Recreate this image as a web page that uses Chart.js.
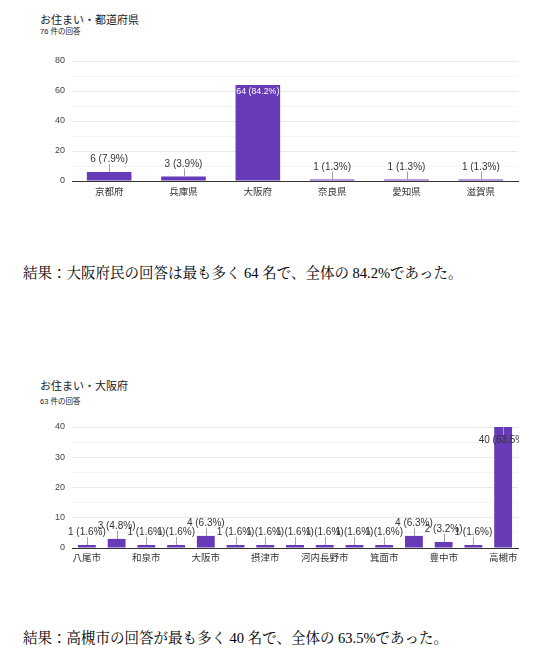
<!DOCTYPE html>
<html>
<head>
<meta charset="utf-8">
<script src="https://cdn.jsdelivr.net/npm/chart.js@4.4.1/dist/chart.umd.min.js"></script>
<style>
  html, body { margin:0; padding:0; background:#fff; }
  body { width:553px; height:665px; position:relative; overflow:hidden; }
  .t { position:absolute; left:40px; color:#202124; font-family: Arial, "Liberation Sans", "Noto Sans CJK JP", sans-serif; white-space:nowrap; }
  .title { font-size:11px; line-height:14px; }
  .sub { font-size:7.5px; line-height:10px; }
  .res { position:absolute; left:23px; font-size:14.5px; line-height:18px; color:#000; white-space:nowrap;
         font-family: "Liberation Serif", "Times New Roman", "Noto Serif CJK JP", "Noto Sans CJK JP", serif; }
  canvas { position:absolute; left:0; }
</style>
</head>
<body>
<div class="t title" style="top:13px">お住まい・都道府県</div>
<div class="t sub" style="top:27px">76 件の回答</div>
<canvas id="c1" width="553" height="210" style="top:0;width:553px;height:210px"></canvas>
<div class="res" style="top:264px">結果：大阪府民の回答は最も多く 64 名で、全体の 84.2%であった。</div>

<div class="t title" style="top:379px">お住まい・大阪府</div>
<div class="t sub" style="top:397px">63 件の回答</div>
<canvas id="c2" width="553" height="200" style="top:370px;width:553px;height:200px"></canvas>
<div class="res" style="top:629px">結果：高槻市の回答が最も多く 40 名で、全体の 63.5%であった。</div>

<script>
// ---- data ----
const prefLabels = ['京都府', '兵庫県', '大阪府', '奈良県', '愛知県', '滋賀県'];
const prefValues = [6, 3, 64, 1, 1, 1];
const prefPercents = ['7.9', '3.9', '84.2', '1.3', '1.3', '1.3'];
const prefTicks = [0, 20, 40, 60, 80];

// every other city name is not shown in the picture
const cityLabels = ['八尾市', '', '和泉市', '', '大阪市', '', '摂津市', '', '河内長野市', '', '箕面市', '', '豊中市', '', '高槻市'];
const cityValues = [1, 3, 1, 1, 4, 1, 1, 1, 1, 1, 1, 4, 2, 1, 40];
const cityPercents = ['1.6', '4.8', '1.6', '1.6', '6.3', '1.6', '1.6', '1.6', '1.6', '1.6', '1.6', '6.3', '3.2', '1.6', '63.5'];
const cityTicks = [0, 10, 20, 30, 40];

const FONT = 'Arial, "Liberation Sans", "Noto Sans CJK JP", sans-serif';
const BAR = '#673ab7';

const labelPlugin = {
  id: 'barLabels',
  afterDatasetsDraw(chart) {
    const ctx = chart.ctx;
    const pcts = chart.options.plugins.barLabels.percents;
    const meta = chart.getDatasetMeta(0);
    const data = chart.data.datasets[0].data;
    const area = chart.chartArea;
    ctx.save();
    ctx.beginPath();
    ctx.rect(area.left - 40, 0, area.right + 1 - (area.left - 40), chart.height);
    ctx.clip();
    ctx.textAlign = 'center';
    ctx.textBaseline = 'middle';
    meta.data.forEach((el, i) => {
      const txt = data[i] + ' (' + pcts[i] + '%)';
      const top = el.y, h = el.base - el.y;
      ctx.strokeStyle = '#a0a0a0';
      ctx.lineWidth = 1;
      if (h > 40) {
        ctx.font = '8.8px ' + FONT;
        const w = ctx.measureText(txt).width;
        if (w < el.width + 6) {
          ctx.fillStyle = '#ffffff';
          ctx.fillText(txt, el.x, top + 7);
        } else {
          ctx.font = '10px ' + FONT;
          ctx.beginPath();
          ctx.moveTo(Math.round(el.x) + 0.5, top);
          ctx.lineTo(Math.round(el.x) + 0.5, top + 8);
          ctx.stroke();
          ctx.fillStyle = '#333333';
          ctx.fillText(txt, el.x, top + 13);
        }
      } else {
        ctx.font = '10px ' + FONT;
        ctx.beginPath();
        ctx.moveTo(Math.round(el.x) + 0.5, top);
        ctx.lineTo(Math.round(el.x) + 0.5, top - 8);
        ctx.stroke();
        ctx.fillStyle = '#333333';
        ctx.fillText(txt, el.x, top - 12.5);
      }
    });
    ctx.restore();
  }
};

function makeChart(id, labels, values, percents, ticks, minorStep, padTop, xHeight, xPad) {
  const max = ticks[ticks.length - 1];
  const major = ticks[1] - ticks[0];
  return new Chart(document.getElementById(id), {
    type: 'bar',
    data: {
      labels: labels,
      datasets: [{
        data: values,
        backgroundColor: BAR,
        borderWidth: 0,
        barPercentage: 0.6,
        categoryPercentage: 1.0
      }]
    },
    options: {
      responsive: false,
      animation: false,
      devicePixelRatio: 1,
      layout: { padding: { top: padTop, right: 35, left: 0, bottom: 0 } },
      plugins: {
        legend: { display: false },
        tooltip: { enabled: false },
        barLabels: { percents: percents }
      },
      scales: {
        x: {
          grid: { display: false, drawTicks: false },
          border: { display: true, color: '#333333', width: 1 },
          ticks: {
            autoSkip: false,
            maxRotation: 0,
            padding: xPad,
            color: '#333333',
            font: { family: FONT, size: 9.5 }
          },
          afterFit: s => { s.height = xHeight; }
        },
        y: {
          min: 0, max: max,
          border: { display: false },
          grid: {
            drawTicks: false,
            color: c => c.tick.value === 0 ? 'rgba(0,0,0,0)' : (c.tick.value % major === 0 ? '#e8e8e8' : '#f4f4f4')
          },
          ticks: {
            stepSize: minorStep,
            padding: 7,
            color: '#444444',
            font: { family: FONT, size: 9 },
            callback: v => (ticks.includes(v) ? String(v) : '')
          },
          afterFit: s => { s.width = 72; }
        }
      }
    },
    plugins: [labelPlugin]
  });
}

makeChart('c1', prefLabels, prefValues, prefPercents, prefTicks, 10, 61, 29, 6);
makeChart('c2', cityLabels, cityValues, cityPercents, cityTicks, 5, 57, 22, 5);
</script>
</body>
</html>
